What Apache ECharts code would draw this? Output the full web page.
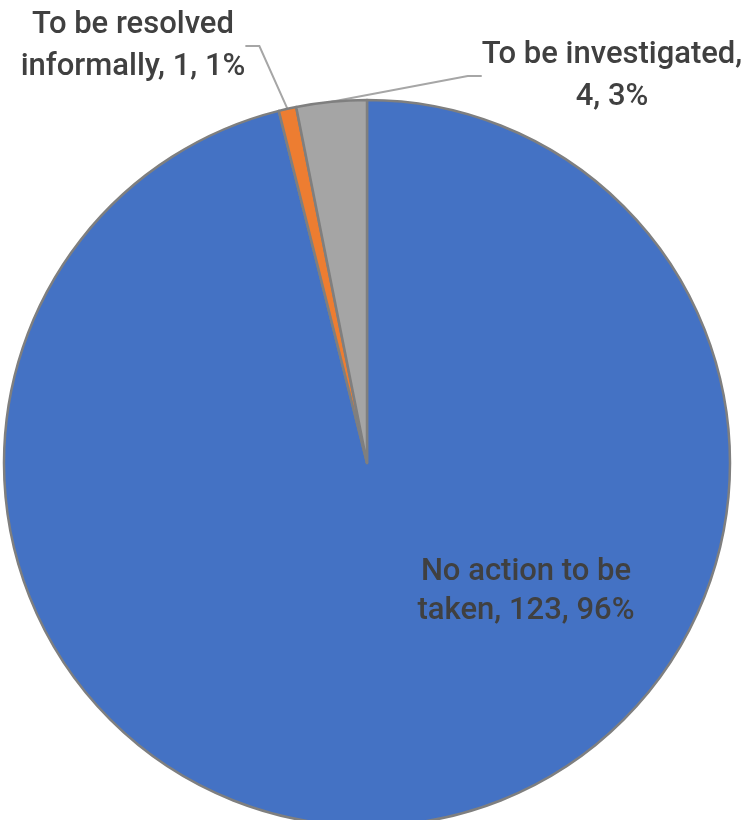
<!DOCTYPE html>
<html>
<head>
<meta charset="utf-8">
<script src="https://cdn.jsdelivr.net/npm/echarts@6/dist/echarts.min.js"></script>
<style>
  html, body { margin: 0; padding: 0; background: #fff; }
  #chart { width: 747px; height: 820px; }
</style>
</head>
<body>
<div id="chart"></div>
<script>
// Pie data. Slices run clockwise from 12 o'clock.
const categories = ['No action to be taken', 'To be resolved informally', 'To be investigated'];
const counts = [123, 1, 4];
const sliceColors = ['#4472c4', '#ed7d31', '#a5a5a5'];
// how many words go on the first line of each label
const breakAfter = [4, 3, 3];
// label block centres in pixels (Excel placed them by hand)
const labelSpots = [[526, 592], [133, 46], [612, 76]];

const total = counts.reduce((a, b) => a + b, 0);

function labelText(i) {
  const pct = Math.round((counts[i] / total) * 100);
  const words = `${categories[i]}, ${counts[i]}, ${pct}%`.split(' ');
  return words.slice(0, breakAfter[i]).join(' ') + '\n' + words.slice(breakAfter[i]).join(' ');
}

const chart = echarts.init(document.getElementById('chart'), null, { renderer: 'canvas' });
chart.setOption({
  backgroundColor: '#ffffff',
  animation: false,
  series: [{
    type: 'pie',
    center: [367, 463],
    radius: 363,
    startAngle: 90,
    clockwise: true,
    avoidLabelOverlap: false,
    emphasis: { disabled: true },
    itemStyle: { borderColor: '#7f7f7f', borderWidth: 2.5 },
    label: {
      color: '#404040',
      fontFamily: 'Roboto',
      fontWeight: 500,
      fontSize: 31,
      lineHeight: 42,
      formatter: (p) => labelText(p.dataIndex),
    },
    labelLine: { length: 12, length2: 14, lineStyle: { color: '#a6a6a6', width: 2 } },
    labelLayout: (p) => {
      const s = labelSpots[p.dataIndex];
      return { x: s[0], y: s[1], align: 'center', verticalAlign: 'middle' };
    },
    data: categories.map((name, i) => ({
      name,
      value: counts[i],
      itemStyle: { color: sliceColors[i] },
      label: i === 0 ? { position: 'inside', lineHeight: 39 } : { position: 'outside' },
      labelLine: { show: i !== 0 },
    })),
  }],
});
</script>
</body>
</html>
